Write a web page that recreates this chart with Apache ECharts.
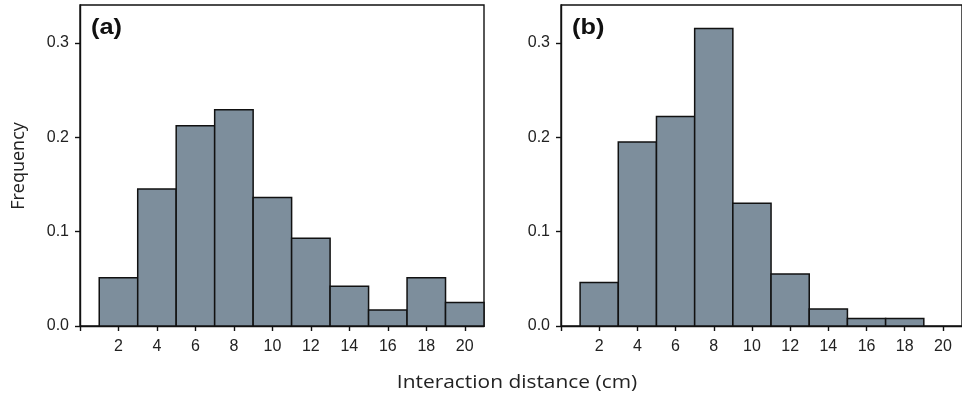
<!DOCTYPE html>
<html><head><meta charset="utf-8">
<script src="https://cdn.jsdelivr.net/npm/echarts@6/dist/echarts.min.js"></script>
<style>html,body{margin:0;padding:0;background:#fff}#c{width:962px;height:396px}</style>
</head><body><div id="c"></div>
<script>
// Data
const binCenters = [2, 4, 6, 8, 10, 12, 14, 16, 18, 20];
const freqA = [0.051, 0.145, 0.212, 0.229, 0.136, 0.093, 0.042, 0.017, 0.051, 0.025];
const freqB = [0.046, 0.195, 0.222, 0.315, 0.130, 0.055, 0.018, 0.008, 0.008, 0.0];
const yTicks = [0, 0.1, 0.2, 0.3];
const xTicks = [0, 2, 4, 6, 8, 10, 12, 14, 16, 18, 20];
const panelLabels = ['(a)', '(b)'];
const xTitle = 'Interaction distance (cm)';
const yTitle = 'Frequency';
const binWidth = 2;

const chart = echarts.init(document.getElementById('c'), null, {renderer: 'canvas'});
const labelFont = '"Liberation Sans", Arial, sans-serif';
const titleFont = '"Open Sans", "Noto Sans", sans-serif';
const barColor = '#7d8e9c';
const ink = '#111';

function xAxisCfg(idx) {
  return {
    type: 'value', gridIndex: idx, min: 0, max: 21, interval: 2,
    axisLine: {show: true, onZero: false, lineStyle: {color: ink, width: 1.4}},
    axisTick: {show: true, length: 5, inside: false, customValues: xTicks, lineStyle: {color: ink, width: 1.4}},
    axisLabel: {show: true, margin: 13, fontSize: 16, color: '#222', fontFamily: labelFont,
      customValues: xTicks.filter(v => v > 0)},
    splitLine: {show: false}
  };
}
function yAxisCfg(idx) {
  return {
    type: 'value', gridIndex: idx, min: 0, max: 0.34, interval: 0.1,
    axisLine: {show: true, lineStyle: {color: ink, width: 1.4}},
    axisTick: {show: true, length: 5, customValues: yTicks, lineStyle: {color: ink, width: 1.4}},
    axisLabel: {show: true, margin: 11, fontSize: 16, color: '#222', fontFamily: labelFont,
      customValues: yTicks, formatter: v => v.toFixed(1)},
    splitLine: {show: false}
  };
}
function histSeries(idx, vals) {
  return {
    type: 'custom', xAxisIndex: idx, yAxisIndex: idx,
    data: binCenters.map((c, i) => [c, vals[i]]),
    renderItem: function (params, api) {
      const c = api.value(0), v = api.value(1);
      if (!(v > 0)) return null;
      const p0 = api.coord([c - binWidth / 2, v]);
      const p1 = api.coord([c + binWidth / 2, 0]);
      return {
        type: 'rect',
        shape: {x: p0[0], y: p0[1], width: p1[0] - p0[0], height: p1[1] - p0[1]},
        style: {fill: barColor, stroke: ink, lineWidth: 1.5}
      };
    }
  };
}

chart.setOption({
  animation: false,
  grid: [
    {left: 80, right: 478, top: 5, bottom: 70, show: true, borderColor: ink, borderWidth: 1.4, backgroundColor: 'transparent'},
    {left: 561, right: -4, top: 5, bottom: 70, show: true, borderColor: ink, borderWidth: 1.4, backgroundColor: 'transparent'}
  ],
  xAxis: [xAxisCfg(0), xAxisCfg(1)],
  yAxis: [yAxisCfg(0), yAxisCfg(1)],
  series: [histSeries(0, freqA), histSeries(1, freqB)],
  graphic: [
    {type: 'text', x: 91, y: 28, scaleX: 1.15, style: {text: panelLabels[0], font: 'bold 22px "Liberation Sans", Arial, sans-serif', fill: ink, textAlign: 'left', textVerticalAlign: 'middle'}},
    {type: 'text', x: 572, y: 28, scaleX: 1.15, style: {text: panelLabels[1], font: 'bold 22px "Liberation Sans", Arial, sans-serif', fill: ink, textAlign: 'left', textVerticalAlign: 'middle'}},
    {type: 'text', x: 517, y: 383, scaleX: 1.1, style: {text: xTitle, font: '19px ' + titleFont, fill: '#222', textAlign: 'center', textVerticalAlign: 'middle'}},
    {type: 'text', x: 19, y: 166, rotation: Math.PI / 2, style: {text: yTitle, font: '18px ' + titleFont, fill: '#222', textAlign: 'center', textVerticalAlign: 'middle'}}
  ]
});
</script></body></html>
